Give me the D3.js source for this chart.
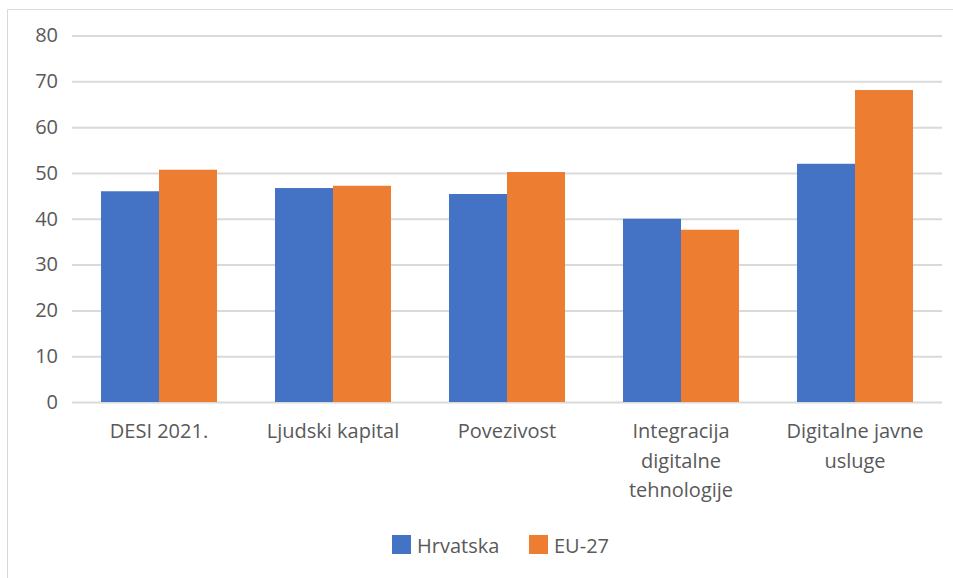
<!DOCTYPE html>
<html>
<head>
<meta charset="utf-8">
<script src="https://cdn.jsdelivr.net/npm/d3@7"></script>
<style>
  html, body { margin: 0; padding: 0; background: #fff; }
  svg { display: block; font-family: "Open Sans", sans-serif; }
</style>
</head>
<body>
<svg id="chart" width="953" height="578"></svg>
<script>
const categories = [
  ["DESI 2021."],
  ["Ljudski kapital"],
  ["Povezivost"],
  ["Integracija", "digitalne", "tehnologije"],
  ["Digitalne javne", "usluge"]
];
const seriesNames = ["Hrvatska", "EU-27"];
const hrvatska = [46.0, 46.7, 45.4, 40.0, 52.0];
const eu27 = [50.7, 47.2, 50.2, 37.6, 68.1];
const yTicks = [0, 10, 20, 30, 40, 50, 60, 70, 80];
const colors = ["#4472C4", "#ED7D31"];

const svg = d3.select("#chart");
const W = 953, H = 578;
const plot = { left: 72, right: 942, top: 35.5, bottom: 402 };
const textColor = "#595959";
const fs = 20;

// border (top & left)
svg.append("line").attr("x1", 7.5).attr("x2", W).attr("y1", 9.5).attr("y2", 9.5)
  .attr("stroke", "#d9d9d9").attr("stroke-width", 1);
svg.append("line").attr("x1", 7.5).attr("x2", 7.5).attr("y1", 9.5).attr("y2", H)
  .attr("stroke", "#d9d9d9").attr("stroke-width", 1);

const x0 = d3.scaleBand().domain(d3.range(categories.length))
  .range([plot.left, plot.right]).paddingInner(1/3).paddingOuter(1/6);
const x1 = d3.scaleBand().domain(d3.range(seriesNames.length))
  .range([0, x0.bandwidth()]);
const y = d3.scaleLinear().domain([0, 80]).range([plot.bottom, plot.top]);

// gridlines
const yAxis = d3.axisLeft(y).tickValues(yTicks).tickSize(-(plot.right - plot.left)).tickPadding(14);
const gy = svg.append("g").attr("transform", `translate(${plot.left},0)`).call(yAxis);
gy.select(".domain").remove();
gy.selectAll(".tick line").attr("stroke", "#d9d9d9").attr("stroke-width", 2);
gy.selectAll(".tick text").attr("fill", textColor).attr("font-size", fs)
  .attr("font-family", "'Open Sans', sans-serif");

// bars
const data = [hrvatska, eu27];
data.forEach((vals, si) => {
  svg.append("g").selectAll("rect").data(vals).join("rect")
    .attr("x", (d, i) => x0(i) + x1(si))
    .attr("y", d => y(d))
    .attr("width", x1.bandwidth())
    .attr("height", d => y(0) - y(d))
    .attr("fill", colors[si]);
});

// x labels
const gx = svg.append("g");
categories.forEach((lines, i) => {
  const t = gx.append("text")
    .attr("x", x0(i) + x0.bandwidth() / 2)
    .attr("y", 438)
    .attr("text-anchor", "middle")
    .attr("fill", textColor)
    .attr("font-size", fs);
  lines.forEach((ln, k) => {
    t.append("tspan").attr("x", x0(i) + x0.bandwidth() / 2)
      .attr("dy", k === 0 ? 0 : 29.5).text(ln);
  });
});

// legend
const legendX = [392, 529];
seriesNames.forEach((name, si) => {
  const g = svg.append("g").attr("transform", `translate(${legendX[si]},535)`);
  g.append("rect").attr("width", 19).attr("height", 19).attr("fill", colors[si]);
  g.append("text").attr("x", 25).attr("y", 17.5).attr("fill", textColor)
    .attr("font-size", fs).text(name);
});
</script>
</body>
</html>
